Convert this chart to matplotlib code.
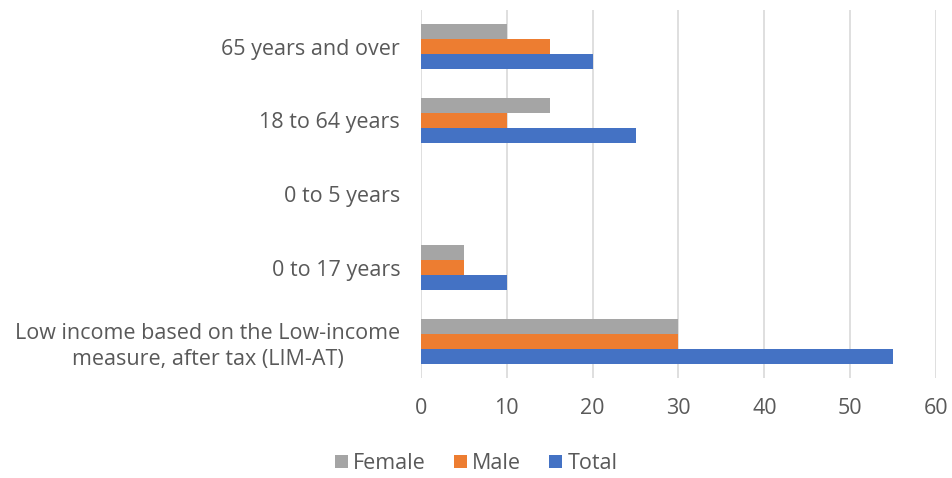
import numpy as np
import matplotlib
matplotlib.use("Agg")
import matplotlib.pyplot as plt

categories = ["Low income based on the Low-income\nmeasure, after tax (LIM-AT)",
              "0 to 17 years", "0 to 5 years", "18 to 64 years", "65 years and over"]
total = [55, 10, 0, 25, 20]
male = [30, 5, 0, 10, 15]
female = [30, 5, 0, 15, 10]

BLUE, ORANGE, GREY = "#4472C4", "#ED7D31", "#A5A5A5"
TXT = "#595959"
FS = 15.5

plt.rcParams["font.family"] = ["Open Sans", "DejaVu Sans"]

fig = plt.figure(figsize=(9.52, 4.78), dpi=100)
ax = fig.add_axes([0.4422, 0.209, 0.541, 0.77])

y = np.arange(len(categories))
h = 0.204
ax.barh(y - h, total, height=h, color=BLUE, label="Total", zorder=3)
ax.barh(y, male, height=h, color=ORANGE, label="Male", zorder=3)
ax.barh(y + h, female, height=h, color=GREY, label="Female", zorder=3)

ax.set_xlim(0, 60)
ax.set_ylim(-0.5, len(categories) - 0.5)
ax.set_xticks(range(0, 61, 10))
ax.set_yticks(y)
ax.set_yticklabels(categories, fontsize=FS, color=TXT, multialignment="center",
                   linespacing=1.35)
ax.tick_params(axis="x", labelsize=FS, labelcolor=TXT, length=0, pad=14)
ax.tick_params(axis="y", length=0, pad=15)
ax.grid(axis="x", color="#D9D9D9", lw=1.2, zorder=0)
for s in ax.spines.values():
    s.set_visible(False)

handles, labels = ax.get_legend_handles_labels()
leg = fig.legend(handles[::-1], labels[::-1], loc="center", bbox_to_anchor=(0.5, 0.03),
                 ncol=3, frameon=False, fontsize=FS, handlelength=0.6, handleheight=0.6,
                 handletextpad=0.25, columnspacing=1.3)
for t in leg.get_texts():
    t.set_color(TXT)

fig.savefig("out.png", dpi=100)
